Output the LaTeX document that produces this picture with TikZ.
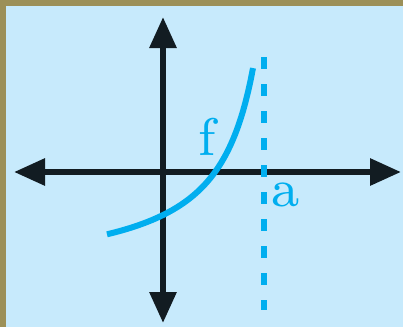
\documentclass[tikz,border=0pt]{standalone}
\usepackage{tikz}
\usetikzlibrary{arrows.meta}
\definecolor{frameolive}{HTML}{9C9058}
\definecolor{paneblue}{HTML}{C7EAFC}
\definecolor{axisdark}{HTML}{121C22}
\definecolor{graphcyan}{HTML}{00AEEF}
\newcommand{\biglbl}[1]{\scalebox{6.625}{\fontsize{8}{8}\selectfont #1}}

\begin{document}
\begin{tikzpicture}[x=1pt,y=-1pt,
  axis/.style={axisdark,line width=6pt,{Triangle[length=31pt,width=26pt]}-{Triangle[length=31pt,width=26pt]}},
  asymline/.style={graphcyan,line width=6pt,dash pattern=on 12pt off 15pt},
  fcurve/.style={graphcyan,line width=6pt},
  lbl/.style={graphcyan,inner sep=0pt,anchor=base}]
\useasboundingbox (0,0) rectangle (403,327);
\fill[frameolive] (0,0) rectangle (403,327);
\fill[paneblue] (6,6) rectangle (403,327);
% axes
\coordinate (ytop) at (163,17);
\coordinate (ybot) at (163,323);
\coordinate (xleft) at (14,172);
\coordinate (xright) at (401,172);
\draw[axis] (ybot) -- (ytop);
\draw[axis] (xleft) -- (xright);
% asymptote
\coordinate (atop) at (263.5,57);
\coordinate (abot) at (263.5,310);
\draw[asymline] (atop) -- (abot);
% graph of f
\draw[fcurve] plot[domain=107:253,samples=60] (\x,{278.7-8214/(292-\x)});
\node[lbl] (flabel) at (207,155) {\biglbl{f}};
\node[lbl] (alabel) at (285.5,206) {\biglbl{a}};
\end{tikzpicture}
\end{document}
